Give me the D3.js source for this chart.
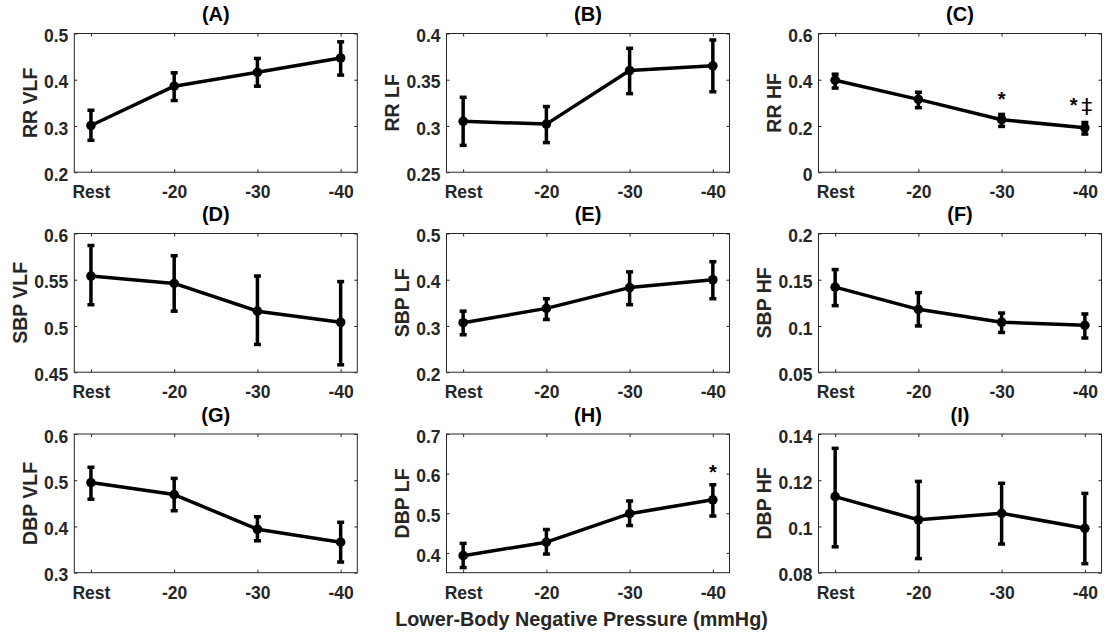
<!DOCTYPE html>
<html>
<head>
<meta charset="utf-8">
<script src="https://cdn.jsdelivr.net/npm/d3@7"></script>
<style>
  html, body { margin: 0; padding: 0; background: #fff; }
  svg { display: block; font-family: "Liberation Sans", Arial, Helvetica, sans-serif; font-weight: bold; }
</style>
</head>
<body>
<svg id="chart" width="1104" height="634"></svg>
<script>
// ---------- data ----------
const categories = ["Rest", "-20", "-30", "-40"];
const panelTitles = ["(A)", "(B)", "(C)", "(D)", "(E)", "(F)", "(G)", "(H)", "(I)"];
const yLabels = ["RR VLF", "RR LF", "RR HF", "SBP VLF", "SBP LF", "SBP HF", "DBP VLF", "DBP LF", "DBP HF"];
const yDomains = [[0.2, 0.5], [0.25, 0.4], [0, 0.6], [0.45, 0.6], [0.2, 0.5], [0.05, 0.2], [0.3, 0.6], [0.35, 0.7], [0.08, 0.14]];
const yTickValues = [
  [0.2, 0.3, 0.4, 0.5], [0.25, 0.3, 0.35, 0.4], [0, 0.2, 0.4, 0.6],
  [0.45, 0.5, 0.55, 0.6], [0.2, 0.3, 0.4, 0.5], [0.05, 0.1, 0.15, 0.2],
  [0.3, 0.4, 0.5, 0.6], [0.4, 0.5, 0.6, 0.7], [0.08, 0.1, 0.12, 0.14]
];
const yTickLabels = [
  ["0.2", "0.3", "0.4", "0.5"], ["0.25", "0.3", "0.35", "0.4"], ["0", "0.2", "0.4", "0.6"],
  ["0.45", "0.5", "0.55", "0.6"], ["0.2", "0.3", "0.4", "0.5"], ["0.05", "0.1", "0.15", "0.2"],
  ["0.3", "0.4", "0.5", "0.6"], ["0.4", "0.5", "0.6", "0.7"], ["0.08", "0.1", "0.12", "0.14"]
];
const meanValues = [
  [0.301, 0.386, 0.416, 0.447],
  [0.305, 0.302, 0.360, 0.365],
  [0.398, 0.315, 0.227, 0.192],
  [0.554, 0.546, 0.516, 0.504],
  [0.307, 0.338, 0.383, 0.400],
  [0.142, 0.118, 0.104, 0.1007],
  [0.495, 0.469, 0.394, 0.366],
  [0.393, 0.427, 0.499, 0.534],
  [0.1129, 0.1029, 0.1057, 0.0992]
];
const upperValues = [
  [0.334, 0.415, 0.446, 0.482],
  [0.331, 0.321, 0.384, 0.393],
  [0.424, 0.346, 0.250, 0.215],
  [0.587, 0.576, 0.554, 0.548],
  [0.332, 0.359, 0.417, 0.439],
  [0.161, 0.136, 0.114, 0.113],
  [0.528, 0.504, 0.421, 0.409],
  [0.424, 0.459, 0.531, 0.572],
  [0.1338, 0.1195, 0.1187, 0.1143]
];
const lowerValues = [
  [0.269, 0.355, 0.386, 0.410],
  [0.279, 0.282, 0.335, 0.337],
  [0.364, 0.279, 0.198, 0.165],
  [0.523, 0.516, 0.480, 0.458],
  [0.281, 0.314, 0.346, 0.359],
  [0.122, 0.100, 0.093, 0.087],
  [0.459, 0.434, 0.369, 0.323],
  [0.363, 0.397, 0.469, 0.493],
  [0.0912, 0.0861, 0.0924, 0.0839]
];
// significance markers
const annotPanel = [2, 2, 7];
const annotCategory = ["-30", "-40", "-40"];
const annotValue = [0.288, 0.260, 0.586];
const annotText = ["*", "*‡", "*"];
const xAxisLabel = "Lower-Body Negative Pressure (mmHg)";

// ---------- layout ----------
const colLeft = [74.3, 446.5, 818.5];
const rowTop = [33.5, 233.5, 434];
const pw = 283, ph = 138.7;
const axisColor = "#262626";
const tickFont = 17.5, labelFont = 19.5, titleFont = 20;

const svg = d3.select("#chart");

for (let i = 0; i < 9; i++) {
  const col = i % 3, row = Math.floor(i / 3);
  const g = svg.append("g").attr("transform", `translate(${colLeft[col]},${rowTop[row]})`);

  const x = d3.scalePoint().domain(categories).range([0, pw]).padding(0.2);
  const y = d3.scaleLinear().domain(yDomains[i]).range([ph, 0]);

  // axes
  const tl = yTickLabels[i];
  const left = g.append("g").call(d3.axisLeft(y).tickValues(yTickValues[i]).tickSize(-3).tickPadding(6)
      .tickFormat((d, k) => tl[k]));
  const bottom = g.append("g").attr("transform", `translate(0,${ph})`)
      .call(d3.axisBottom(x).tickSize(-3).tickPadding(13.6));
  g.append("g").call(d3.axisRight(y).tickValues(yTickValues[i]).tickSize(-3).tickFormat(""))
      .attr("transform", `translate(${pw},0)`);
  g.append("g").call(d3.axisTop(x).tickSize(-3).tickFormat(""));
  g.selectAll(".domain").remove();
  g.selectAll(".tick line").attr("stroke", axisColor).attr("stroke-width", 1);
  left.selectAll("text").attr("font-size", tickFont).attr("fill", axisColor).attr("dy", "0.47em")
      .attr("font-family", "Liberation Sans, Arial, sans-serif").attr("font-weight", "bold");
  bottom.selectAll("text").attr("font-size", tickFont).attr("fill", axisColor)
      .attr("font-family", "Liberation Sans, Arial, sans-serif").attr("font-weight", "bold");

  g.append("rect").attr("x", 0).attr("y", 0).attr("width", pw).attr("height", ph)
    .attr("fill", "none").attr("stroke", axisColor).attr("stroke-width", 1);

  // y label, placed left of tick labels
  const bb = left.node().getBBox();
  g.append("text")
    .attr("transform", `translate(${bb.x - 7},${ph / 2}) rotate(-90)`)
    .attr("text-anchor", "middle")
    .attr("font-size", labelFont).attr("fill", axisColor)
    .text(yLabels[i]);

  // title
  g.append("text").attr("x", pw / 2).attr("y", -12.5).attr("text-anchor", "middle")
    .attr("font-size", titleFont).attr("fill", "#000").text(panelTitles[i]);

  // data
  const pts = categories.map((c, k) => ({ c, m: meanValues[i][k], u: upperValues[i][k], l: lowerValues[i][k] }));
  const eb = g.append("g").attr("stroke", "#000").attr("stroke-width", 3.5);
  eb.selectAll("line.v").data(pts).join("line").attr("class", "v")
    .attr("x1", d => x(d.c)).attr("x2", d => x(d.c))
    .attr("y1", d => y(d.u)).attr("y2", d => y(d.l));
  eb.selectAll("line.cu").data(pts).join("line").attr("class", "cu")
    .attr("x1", d => x(d.c) - 3.5).attr("x2", d => x(d.c) + 3.5)
    .attr("y1", d => y(d.u)).attr("y2", d => y(d.u));
  eb.selectAll("line.cl").data(pts).join("line").attr("class", "cl")
    .attr("x1", d => x(d.c) - 3.5).attr("x2", d => x(d.c) + 3.5)
    .attr("y1", d => y(d.l)).attr("y2", d => y(d.l));

  g.append("path").datum(pts)
    .attr("d", d3.line().x(d => x(d.c)).y(d => y(d.m)))
    .attr("fill", "none").attr("stroke", "#000").attr("stroke-width", 3.5).attr("stroke-linejoin", "round");
  g.selectAll("circle").data(pts).join("circle")
    .attr("cx", d => x(d.c)).attr("cy", d => y(d.m)).attr("r", 4.8).attr("fill", "#000");

  // annotations
  annotPanel.forEach((p, k) => {
    if (p !== i) return;
    const t = g.append("text").attr("y", y(annotValue[k])).attr("font-size", titleFont).attr("fill", "#000");
    if (annotText[k].length === 1) {
      t.attr("x", x(annotCategory[k])).attr("text-anchor", "middle").text(annotText[k]);
    } else {
      t.attr("x", x(annotCategory[k]) - 15).attr("text-anchor", "start");
      t.append("tspan").text(annotText[k][0]);
      t.append("tspan").attr("dx", 3.5).attr("dy", 2).attr("font-weight", "normal")
        .attr("font-family", "DejaVu Sans, sans-serif").attr("font-size", 22).text(annotText[k].slice(1));
    }
  });
}

// shared x label
svg.append("text").attr("x", 581.5).attr("y", 625.5).attr("text-anchor", "middle")
  .attr("font-size", 19.8).attr("fill", axisColor).text(xAxisLabel);
</script>
</body>
</html>
